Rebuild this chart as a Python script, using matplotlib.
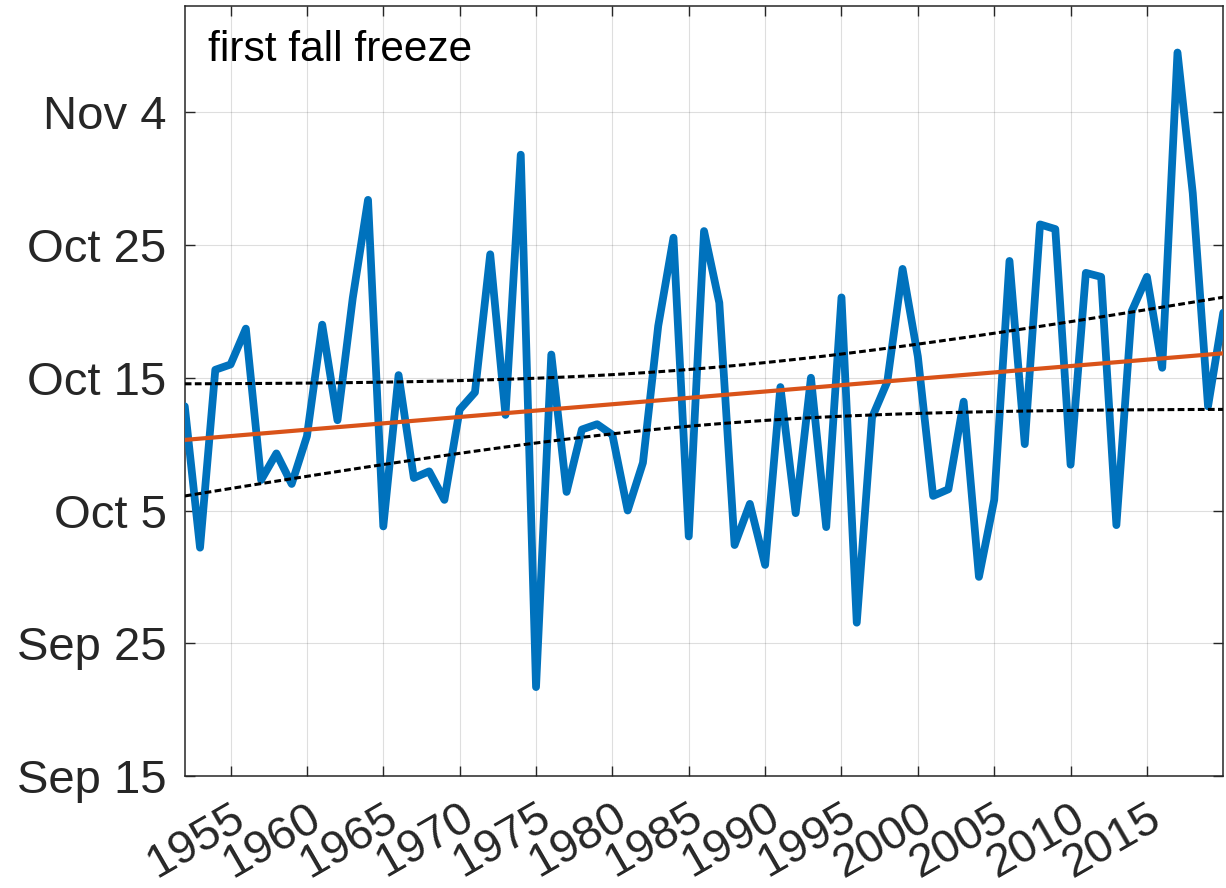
import numpy as np
import matplotlib
matplotlib.use('Agg')
import matplotlib.pyplot as plt

plt.rcParams['font.family'] = ['Liberation Sans', 'DejaVu Sans']

# first fall freeze, in days after Sep 15
years = list(range(1952, 2021))
freeze_day = [27.85, 17.2, 30.6, 31.0, 33.7, 22.3, 24.3, 22.0, 25.6, 34.0,
              26.8, 36.0, 43.4, 18.8, 30.2, 22.45, 22.95, 20.8, 27.6, 28.9,
              39.3, 27.2, 46.8, 6.7, 31.75, 21.4, 26.1, 26.5, 25.7, 20.0,
              23.6, 33.9, 40.55, 18.05, 41.05, 35.65, 17.4, 20.5, 15.9, 29.3,
              19.8, 30.0, 18.75, 36.05, 11.55, 27.0, 29.7, 38.2, 31.6, 21.1,
              21.6, 28.2, 15.0, 20.8, 38.8, 25.0, 41.55, 41.2, 23.45, 37.9,
              37.6, 18.9, 35.0, 37.6, 30.75, 54.5, 43.9, 27.85, 34.9]

ytick_days = [0, 10, 20, 30, 40, 50]
ytick_labels = ['Sep 15', 'Sep 25', 'Oct 5', 'Oct 15', 'Oct 25', 'Nov 4']
xtick_years = list(range(1955, 2020, 5))

x = np.array(years, dtype=float)
y = np.array(freeze_day)

# linear trend with 95% confidence band of the fit
n = len(x)
b, a = np.polyfit(x, y, 1)
fit = a + b * x
s = np.sqrt(np.sum((y - fit) ** 2) / (n - 2))
sxx = np.sum((x - x.mean()) ** 2)
t95 = 1.996
half = t95 * s * np.sqrt(1.0 / n + (x - x.mean()) ** 2 / sxx)

fig = plt.figure(figsize=(12.26, 8.88), dpi=100)
ax = fig.add_axes([0.1507, 0.1261, 0.8471, 0.8671])

ax.plot(x, y, color='#0072BD', lw=5.6, solid_joinstyle='round',
        solid_capstyle='round', zorder=3)
ax.plot(x, fit, color='#D95319', lw=3.0, zorder=4)
ax.plot(x, fit + half, color='black', lw=2.2, dashes=(2.2, 1.1), zorder=5)
ax.plot(x, fit - half, color='black', lw=2.2, dashes=(2.2, 1.1), zorder=5)

ax.set_xlim(1952, 2020)
ax.set_ylim(0, 58)
ax.set_yticks(ytick_days)
ax.set_yticklabels(ytick_labels)
ax.set_xticks(xtick_years)
ax.set_xticklabels([str(v) for v in xtick_years], rotation=30,
                   rotation_mode='anchor', ha='right', va='top')

ax.grid(True, color='#262626', alpha=0.15, lw=0.8)
ax.tick_params(direction='in', length=7, width=1.0, colors='#262626',
               top=True, right=True, labelsize=34)
ax.tick_params(axis='y', pad=13)
ax.tick_params(axis='x', pad=14)
for sp in ax.spines.values():
    sp.set_color('#262626')
    sp.set_linewidth(1.1)

ax.text(0.0224, 0.929, 'first fall freeze', transform=ax.transAxes,
        fontsize=30.5, va='baseline', ha='left', color='black')

fig.savefig('out.png', dpi=100)
